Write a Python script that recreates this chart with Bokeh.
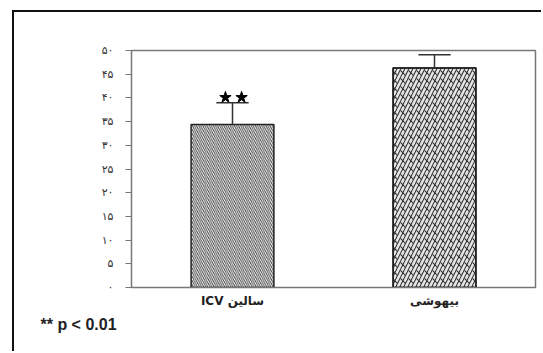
from bokeh.plotting import figure
from bokeh.models import Range1d, FixedTicker, Title
from bokeh.embed import file_html
from bokeh.resources import INLINE

# ---- data ----
categories = ["ICV سالین", "بیهوشی"]
cat_x = [0, 1]
means = [34.4, 46.3]
sems = [4.6, 2.8]
y_ticks = [0, 5, 10, 15, 20, 25, 30, 35, 40, 45, 50]
y_tick_labels = ["۰", "۵", "۱۰", "۱۵", "۲۰", "۲۵", "۳۰", "۳۵", "۴۰", "۴۵", "۵۰"]
sig_note = "** p < 0.01"

uppers = [m + s for m, s in zip(means, sems)]

p = figure(width=529, height=341, output_backend="svg", toolbar_location=None,
           x_range=Range1d(-0.5, 1.5), y_range=Range1d(0, 50),
           min_border_left=117, min_border_right=8, min_border_top=38, min_border_bottom=66)
p.margin = (10, 0, 0, 12)
p.styles = {"border-left": "2px solid #111", "border-top": "2px solid #111"}
p.grid.visible = False
p.background_fill_color = "white"
p.border_fill_color = "white"
p.outline_line_color = "#777777"
p.outline_line_width = 1.5

# bars
p.vbar(x=[cat_x[0]], top=[means[0]], width=0.41, bottom=0,
       fill_color="white", line_color="#222222", line_width=1.5,
       hatch_pattern="\\", hatch_color="#444444", hatch_scale=4.2, hatch_weight=1.0)
p.vbar(x=[cat_x[1]], top=[means[1]], width=0.41, bottom=0,
       fill_color="#e8e8e8", line_color="#222222", line_width=1.5,
       hatch_pattern="/", hatch_color="#333333", hatch_scale=8, hatch_weight=1.1)
p.vbar(x=[cat_x[1]], top=[means[1]], width=0.41, bottom=0,
       fill_alpha=0, line_color="#222222", line_width=1.5,
       hatch_pattern="`", hatch_color="#333333", hatch_scale=8, hatch_weight=1.1)

# error bars
p.segment(x0=cat_x, y0=means, x1=cat_x, y1=uppers, line_color="#333333", line_width=1.5)
cap = 0.08
p.segment(x0=[x - cap for x in cat_x], y0=uppers, x1=[x + cap for x in cat_x], y1=uppers,
          line_color="#333333", line_width=1.5)

# significance stars
p.scatter(x=[cat_x[0] - 0.035, cat_x[0] + 0.045], y=[uppers[0] + 1.1] * 2,
          marker="star", size=12, fill_color="black", line_color="black")

# axes
p.yaxis.ticker = FixedTicker(ticks=y_ticks)
p.yaxis.major_label_overrides = dict(zip(y_ticks, y_tick_labels))
p.yaxis.major_label_text_font = "DejaVu Sans"
p.yaxis.major_label_text_font_size = "11px"
p.yaxis.major_label_text_color = "#333333"
p.yaxis.major_tick_out = 6
p.yaxis.major_tick_in = 0
p.yaxis.minor_tick_line_color = None
p.yaxis.axis_line_color = "#777777"
p.yaxis.major_tick_line_color = "#777777"
p.yaxis.major_label_standoff = 12

p.xaxis.ticker = FixedTicker(ticks=cat_x)
p.xaxis.major_label_overrides = dict(zip(cat_x, categories))
p.xaxis.major_label_text_font = "DejaVu Sans"
p.xaxis.major_label_text_font_style = "bold"
p.xaxis.major_label_text_font_size = "12px"
p.xaxis.major_label_text_color = "#222222"
p.xaxis.major_tick_out = 0
p.xaxis.major_tick_in = 0
p.xaxis.minor_tick_line_color = None
p.xaxis.axis_line_color = "#777777"
p.xaxis.major_label_standoff = 6

note = Title(text=sig_note, align="left", offset=-91, text_font="Liberation Sans",
             text_font_size="16px", text_color="#222222", text_font_style="bold",
             standoff=6)
p.add_layout(note, "below")

open("out.html", "w").write(file_html(p, INLINE))
